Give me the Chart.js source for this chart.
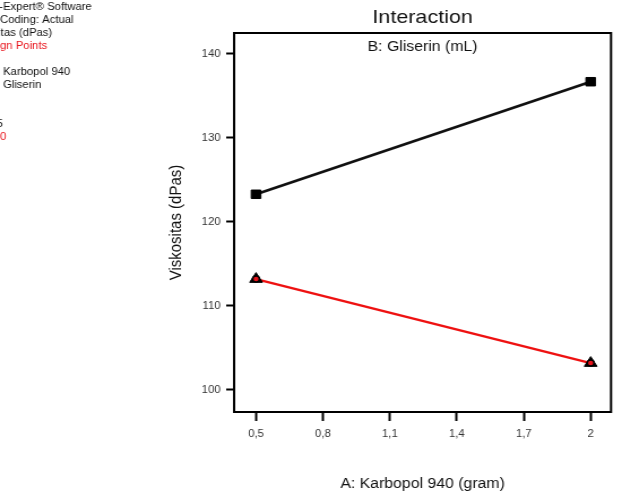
<!DOCTYPE html>
<html>
<head>
<meta charset="utf-8">
<script src="https://cdn.jsdelivr.net/npm/chart.js@4.4.1/dist/chart.umd.min.js"></script>
<style>
  html, body { margin: 0; padding: 0; background: #fff; overflow: hidden; }
  /* the source picture is stretched horizontally, so we draw narrow and scale */
  #wrap { width: 550px; height: 494px; transform: scaleX(1.1309); transform-origin: 0 0; }
</style>
</head>
<body>
<div id="wrap"><canvas id="chart" width="550" height="494"></canvas></div>
<script>
// data
const karbopol = [0.5, 2];
const viskoLow = [123.3, 136.7];   // B- 5  (black)
const viskoHigh = [113.2, 103.2];  // B+ 10 (red)
const xTicks = [0.5, 0.8, 1.1, 1.4, 1.7, 2];
const xTickLabels = ['0,5', '0,8', '1,1', '1,4', '1,7', '2'];
const yTicks = [100, 110, 120, 130, 140];
const yTickLabels = ['100', '110', '120', '130', '140'];

const S = 1.1309;
const FONT = '"Liberation Sans", Arial, sans-serif';

// legend text block on the left, partly cut off by the page edge
const info = [
  { text: 'Design-Expert\u00ae Software', cut: 'Design-', x: 3, y: 7, color: '#111' },
  { text: 'Factor Coding: Actual', cut: 'Factor ', x: 0, y: 20, color: '#111' },
  { text: 'Viskositas (dPas)', cut: 'Viskosi', x: 0.7, y: 33, color: '#111' },
  { text: 'Design Points', cut: 'Desi', x: 0, y: 46, color: '#e8141c' },
  { text: 'X1 = A: Karbopol 940', cut: 'X1 = A: ', x: 3, y: 72, color: '#111' },
  { text: 'X2 = B: Gliserin', cut: 'X2 = B: ', x: 3, y: 85, color: '#111' },
  { text: 'B- 5', cut: 'B- ', x: -3.5, y: 124, color: '#111' },
  { text: 'B+ 10', cut: 'B+ 1', x: 0, y: 137, color: '#e8141c' },
];

const pts = (ys) => karbopol.map((x, i) => ({ x: x, y: ys[i] }));

const frame = {
  id: 'frame',
  beforeDatasetsDraw(chart) {
    const ctx = chart.ctx, a = chart.chartArea;
    ctx.save();
    ctx.strokeStyle = '#000';
    ctx.lineWidth = 2;
    ctx.strokeRect(a.left, a.top, a.right - a.left, a.bottom - a.top);
    ctx.restore();
  },
  afterDraw(chart) {
    const ctx = chart.ctx, a = chart.chartArea;
    const cx = (a.left + a.right) / 2;
    ctx.save();
    ctx.textBaseline = 'middle';
    ctx.textAlign = 'center';
    ctx.fillStyle = '#111';
    ctx.font = '19px ' + FONT;
    ctx.fillText('Interaction', cx, 18);
    ctx.font = '14px ' + FONT;
    ctx.fillText('B: Gliserin (mL)', cx, 47);
    ctx.fillText('A: Karbopol 940 (gram)', cx, 484);

    ctx.save();
    ctx.translate(176 / S, (a.top + a.bottom) / 2);
    ctx.rotate(-Math.PI / 2);
    ctx.font = '15px ' + FONT;
    ctx.fillText('Viskositas (dPas)', 0, 0);
    ctx.restore();

    ctx.textAlign = 'left';
    ctx.font = '10px ' + FONT;
    info.forEach(l => {
      ctx.fillStyle = l.color;
      ctx.fillText(l.text, l.x / S - ctx.measureText(l.cut).width, l.y);
    });
    ctx.restore();
  }
};

new Chart(document.getElementById('chart'), {
  type: 'line',
  data: {
    datasets: [
      {
        label: 'Design Points',
        data: pts(viskoHigh),
        showLine: false,
        pointStyle: 'circle',
        pointRadius: 3,
        pointBackgroundColor: '#e8141c',
        pointBorderColor: '#000',
        pointBorderWidth: 1.5,
        order: 0
      },
      {
        label: 'B- 5',
        data: pts(viskoLow),
        borderColor: '#111',
        borderWidth: 2.6,
        pointStyle: 'rect',
        pointRadius: 6,
        pointBackgroundColor: '#000',
        pointBorderColor: '#000',
        pointBorderWidth: 1,
        order: 1
      },
      {
        label: 'B+ 10',
        data: pts(viskoHigh),
        borderColor: '#ee1111',
        borderWidth: 2.2,
        pointStyle: 'triangle',
        pointRadius: 6.5,
        pointBackgroundColor: '#000',
        pointBorderColor: '#000',
        pointBorderWidth: 1,
        order: 1
      }
    ]
  },
  options: {
    responsive: false,
    animation: false,
    events: [],
    layout: { padding: { left: 0, right: 9.7, top: 33, bottom: 0 } },
    plugins: { legend: { display: false }, title: { display: false }, tooltip: { enabled: false } },
    scales: {
      x: {
        type: 'linear',
        min: 0.4017,
        max: 2.0912,
        afterBuildTicks: (s) => { s.ticks = xTicks.map(v => ({ value: v })); },
        afterFit: (s) => { s.height = 82; },
        border: { display: false },
        grid: { drawOnChartArea: false, drawTicks: true, tickLength: 9, tickWidth: 2, color: '#000' },
        ticks: {
          padding: 7,
          color: '#333',
          font: { family: FONT, size: 10 },
          maxRotation: 0,
          callback: (v, i) => xTickLabels[i]
        }
      },
      y: {
        type: 'linear',
        min: 97.38,
        max: 142.5,
        afterBuildTicks: (s) => { s.ticks = yTicks.map(v => ({ value: v })); },
        afterFit: (s) => { s.width = 207; },
        border: { display: false },
        grid: { drawOnChartArea: false, drawTicks: true, tickLength: 7, tickWidth: 2, color: '#000' },
        ticks: {
          padding: 5,
          color: '#333',
          font: { family: FONT, size: 10 },
          callback: (v, i) => yTickLabels[i]
        }
      }
    }
  },
  plugins: [frame]
});
</script>
</body>
</html>
